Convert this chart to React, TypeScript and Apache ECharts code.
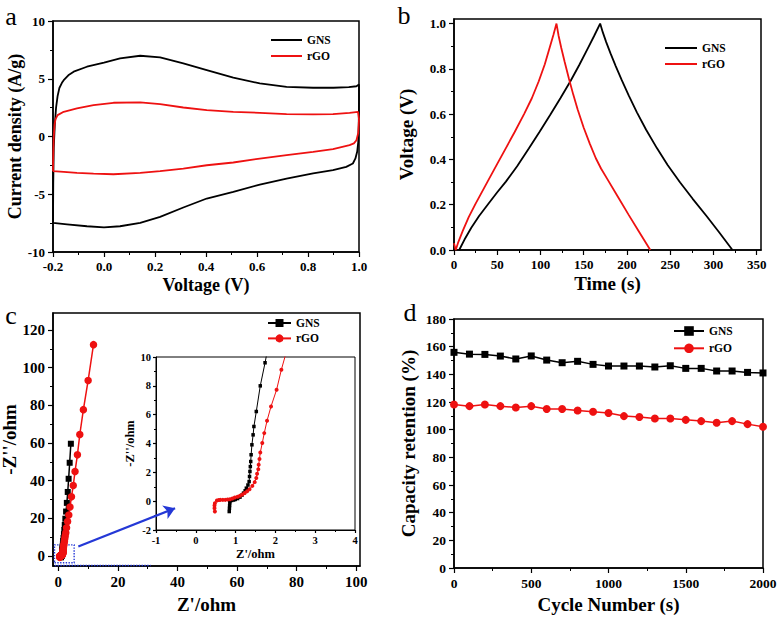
import React, { useEffect, useRef } from 'react';
import * as echarts from 'echarts';

// ---------- Panel a: cyclic voltammetry [Voltage (V), Current density (A/g)]
const cvGNS: [number, number][] = [
  [-0.2, -7.48], [-0.199, -4], [-0.197, -1], [-0.193, 1], [-0.188, 2.5], [-0.182, 3.5], [-0.175, 4.2],
  [-0.165, 4.65], [-0.158, 4.88], [-0.14, 5.3], [-0.119, 5.61], [-0.067, 6.04], [0.0, 6.39], [0.063, 6.76],
  [0.142, 6.99], [0.22, 6.85], [0.311, 6.33], [0.403, 5.75], [0.507, 5.09], [0.611, 4.6], [0.716, 4.3],
  [0.82, 4.22], [0.9, 4.22], [0.96, 4.28], [0.99, 4.35], [1.0, 4.5],
  [1.0, 3.0], [0.999, 1.0], [0.997, -0.5], [0.993, -1.3], [0.986, -1.9], [0.976, -2.34], [0.95, -2.63],
  [0.898, -2.92], [0.82, -3.2], [0.716, -3.64], [0.611, -4.16], [0.507, -4.8], [0.403, -5.37], [0.311, -6.15],
  [0.22, -6.96], [0.142, -7.48], [0.063, -7.77], [0.0, -7.86], [-0.067, -7.77], [-0.145, -7.6], [-0.2, -7.48],
];
const cvRGO: [number, number][] = [
  [-0.2, -3.0], [-0.199, -1.5], [-0.197, 0], [-0.194, 1.0], [-0.19, 1.5], [-0.182, 1.85], [-0.158, 2.14],
  [-0.106, 2.43], [-0.041, 2.72], [0.037, 2.92], [0.142, 2.95], [0.22, 2.8], [0.311, 2.51], [0.403, 2.28],
  [0.507, 2.14], [0.611, 2.05], [0.716, 1.94], [0.82, 1.91], [0.898, 1.94], [0.963, 2.05], [0.996, 2.14],
  [1.0, 1.5], [0.997, 0.3], [0.99, -0.32], [0.98, -0.6], [0.963, -0.75], [0.898, -1.1], [0.82, -1.33],
  [0.716, -1.62], [0.611, -1.91], [0.507, -2.25], [0.403, -2.49], [0.311, -2.78], [0.22, -3.0], [0.142, -3.15],
  [0.037, -3.27], [-0.041, -3.21], [-0.106, -3.15], [-0.158, -3.06], [-0.2, -3.0],
];

// ---------- Panel b: galvanostatic charge/discharge [Time (s), Voltage (V)]
const gcdGNS: [number, number][] = [
  [6, 0], [12, 0.045], [20, 0.098], [29, 0.15], [40, 0.205], [50, 0.255], [60, 0.302], [73, 0.37], [86.5, 0.448],
  [99, 0.522], [111.5, 0.598], [123, 0.67], [134.6, 0.745], [145, 0.818], [154, 0.885], [162, 0.945], [169, 1.0],
  [172, 0.962], [176, 0.918], [181, 0.868], [187, 0.812], [194, 0.75], [202, 0.683], [211.5, 0.608], [222, 0.532],
  [234.6, 0.45], [247, 0.375], [261.5, 0.298], [276, 0.226], [292, 0.15], [307, 0.076], [322, 0],
];
const gcdRGO: [number, number][] = [
  [0, 0.03], [2, 0], [5, 0.035], [10, 0.083], [17, 0.145], [25, 0.205], [38.5, 0.3], [50, 0.38], [60, 0.45],
  [70, 0.52], [81, 0.6], [90, 0.67], [98, 0.745], [105, 0.82], [110, 0.885], [115, 0.95], [118.5, 1.0],
  [121, 0.945], [124, 0.893], [128, 0.83], [133, 0.755], [138, 0.685], [143, 0.62], [150, 0.54], [157, 0.47],
  [164, 0.405], [170, 0.36], [177, 0.315], [189.5, 0.235], [202, 0.155], [214.5, 0.077], [227, 0],
];

// ---------- Panel c: Nyquist plot [Z'/ohm, -Z''/ohm] (also shown in the inset)
const eisGNS: [number, number][] = [
  [0.84, -0.72], [0.845, -0.5], [0.85, -0.3], [0.855, -0.1], [0.86, 0.02], [0.9, 0.05], [0.95, 0.08], [0.99, 0.12],
  [1.05, 0.18], [1.11, 0.28], [1.16, 0.42], [1.2, 0.56], [1.24, 0.72], [1.27, 0.9], [1.31, 1.12], [1.34, 1.36],
  [1.35, 1.71], [1.36, 2.06], [1.37, 2.4], [1.38, 2.75], [1.39, 3.22], [1.41, 3.91], [1.44, 4.6], [1.46, 5.18],
  [1.52, 6.22], [1.62, 8.0], [1.74, 9.6], [1.88, 11.6], [2.0, 13.8], [2.15, 16.5], [2.35, 19.8], [2.6, 23.6],
  [2.85, 28.2], [3.15, 34.0], [3.45, 41.0], [3.8, 49.5], [4.2, 59.6],
];
const eisRGO: [number, number][] = [
  [0.48, -0.72], [0.47, -0.49], [0.47, -0.3], [0.48, -0.14], [0.53, 0.04], [0.58, 0.08], [0.62, 0.09],
  [0.68, 0.09], [0.74, 0.09], [0.8, 0.11], [0.86, 0.14], [0.92, 0.19], [0.98, 0.25], [1.05, 0.3], [1.11, 0.37],
  [1.17, 0.46], [1.23, 0.56], [1.29, 0.69], [1.35, 0.83], [1.42, 1.06], [1.48, 1.32], [1.52, 1.6], [1.54, 1.9],
  [1.57, 2.22], [1.58, 2.52], [1.6, 2.92], [1.62, 3.38], [1.67, 4.03], [1.72, 4.72], [1.79, 5.58], [1.89, 6.57],
  [2.03, 7.73], [2.15, 9.12], [2.3, 10.6], [2.5, 12.4], [2.75, 15.0], [3.1, 18.3], [3.5, 21.8], [3.9, 26.0],
  [4.4, 31.4], [5.0, 37.4], [5.6, 44.9], [6.4, 53.7], [7.2, 64.5], [8.4, 77.7], [10.0, 93.2], [11.8, 112.2],
];

// ---------- Panel d: cycling stability [Cycle Number, Capacity retention (%)]
const cycleNumbers = [0, 100, 200, 300, 400, 500, 600, 700, 800, 900, 1000, 1100, 1200, 1300, 1400, 1500, 1600, 1700, 1800, 1900, 2000];
const retentionGNS = [155.9, 154.6, 154.4, 153.2, 151.1, 153.3, 150.3, 148.4, 149.4, 147.2, 146.0, 146.0, 146.0, 145.3, 146.2, 144.3, 144.3, 142.4, 142.4, 141.4, 141.0];
const retentionRGO = [118.2, 117.0, 118.2, 117.0, 116.0, 117.0, 114.9, 114.9, 113.9, 112.9, 112.0, 109.8, 109.1, 108.1, 108.1, 107.1, 106.2, 105.0, 106.2, 104.0, 102.1];

// ---------- Tick values
const aXTicks = [-0.2, 0, 0.2, 0.4, 0.6, 0.8, 1.0];
const aXMinor = [-0.1, 0.1, 0.3, 0.5, 0.7, 0.9];
const aYTicks = [-10, -5, 0, 5, 10];
const aYMinor = [-7.5, -2.5, 2.5, 7.5];
const bXTicks = [0, 50, 100, 150, 200, 250, 300, 350];
const bXMinor = [25, 75, 125, 175, 225, 275, 325];
const bYTicks = [0, 0.2, 0.4, 0.6, 0.8, 1.0];
const bYMinor = [0.1, 0.3, 0.5, 0.7, 0.9];
const cXTicks = [0, 20, 40, 60, 80, 100];
const cXMinor = [10, 30, 50, 70, 90];
const cYTicks = [0, 20, 40, 60, 80, 100, 120];
const cYMinor = [10, 30, 50, 70, 90, 110];
const iXTicks = [-1, 0, 1, 2, 3, 4];
const iXMinor = [-0.5, 0.5, 1.5, 2.5, 3.5];
const iYTicks = [-2, 0, 2, 4, 6, 8, 10];
const iYMinor = [-1, 1, 3, 5, 7, 9];
const dXTicks = [0, 500, 1000, 1500, 2000];
const dXMinor = [250, 750, 1250, 1750];
const dYTicks = [0, 20, 40, 60, 80, 100, 120, 140, 160, 180];
const dYMinor = [10, 30, 50, 70, 90, 110, 130, 150, 170];

const FONT = '"Liberation Serif", "Times New Roman", Times, serif';
const RED = '#ee1111';
const BLUE = '#2438d6';
const fix1 = (v: number) => v.toFixed(1);
const plain = (v: number) => String(Math.round(v * 1000) / 1000);

type Spec = {
  grid: number; min: number; max: number; major: number[]; minor: number[];
  fmt?: (v: number) => string; name?: string; nameGap?: number; nameSize?: number;
  labelSize: number; tickLen?: number; minorLen?: number; lineWidth?: number; margin?: number;
};

function axisPair(dim: 'x' | 'y', s: Spec) {
  const position = dim === 'x' ? 'bottom' : 'left';
  const main = {
    type: 'value', gridIndex: s.grid, min: s.min, max: s.max, position,
    name: s.name || '', nameLocation: 'middle', nameGap: s.nameGap ?? 25,
    nameTextStyle: { fontFamily: FONT, fontWeight: 'bold', fontSize: s.nameSize ?? 18, color: '#000' },
    axisLine: { show: true, onZero: false, lineStyle: { color: '#000', width: s.lineWidth ?? 1.5 } },
    axisTick: { show: true, inside: false, length: s.tickLen ?? 5, customValues: s.major, lineStyle: { color: '#000', width: 1.2 } },
    minorTick: { show: false },
    axisLabel: {
      show: true, customValues: s.major, formatter: s.fmt ?? plain, fontFamily: FONT, fontWeight: 'bold',
      fontSize: s.labelSize, color: '#000', margin: s.margin ?? 8,
    },
    splitLine: { show: false },
  };
  const ghost = {
    type: 'value', gridIndex: s.grid, min: s.min, max: s.max, position,
    axisLine: { show: false, onZero: false },
    axisTick: { show: true, inside: false, length: s.minorLen ?? 3, customValues: s.minor, lineStyle: { color: '#000', width: 1 } },
    axisLabel: { show: false },
    splitLine: { show: false },
  };
  return [main, ghost];
}

const gridBox = (left: number, top: number, width: number, height: number, bw = 1.5, bg = 'transparent') => ({
  left, top, width, height, show: true, borderColor: '#000', borderWidth: bw, backgroundColor: bg,
  containLabel: false, outerBoundsMode: 'none',
});

const legendBox = (left: number, top: number, names: string[], itemWidth: number, itemHeight: number, itemGap: number, lineOnly = false) => ({
  orient: 'vertical', left, top, padding: 0, itemWidth, itemHeight, itemGap,
  data: names.map((name) => (lineOnly ? { name, itemStyle: { opacity: 0 } } : { name })),
  formatter: (n: string) => n.split('-')[0], selectedMode: false,
  textStyle: { fontFamily: FONT, fontWeight: 'bold', fontSize: 11.5, color: '#000' },
});

function buildOption() {
  const xAxes = [
    ...axisPair('x', { grid: 0, min: -0.2, max: 1.0, major: aXTicks, minor: aXMinor, fmt: fix1, labelSize: 13, name: 'Voltage (V)', nameGap: 24, nameSize: 18 }),
    ...axisPair('x', { grid: 1, min: 0, max: 355, major: bXTicks, minor: bXMinor, labelSize: 13, name: 'Time (s)', nameGap: 24, nameSize: 19 }),
    ...axisPair('x', { grid: 2, min: -1.8, max: 101.3, major: cXTicks, minor: cXMinor, labelSize: 15, name: "Z'/ohm", nameGap: 29, nameSize: 19 }),
    ...axisPair('x', { grid: 3, min: -1, max: 4, major: iXTicks, minor: iXMinor, labelSize: 10.5, name: "Z'/ohm", nameGap: 17, nameSize: 12.5, tickLen: 3, minorLen: 2, lineWidth: 1, margin: 5 }),
    ...axisPair('x', { grid: 4, min: 0, max: 2000, major: dXTicks, minor: dXMinor, labelSize: 13.5, name: 'Cycle Number (s)', nameGap: 27, nameSize: 19 }),
  ];
  const yAxes = [
    ...axisPair('y', { grid: 0, min: -10, max: 10, major: aYTicks, minor: aYMinor, labelSize: 13, name: 'Current density (A/g)', nameGap: 29, nameSize: 18 }),
    ...axisPair('y', { grid: 1, min: 0, max: 1.02, major: bYTicks, minor: bYMinor, fmt: fix1, labelSize: 13, name: 'Voltage (V)', nameGap: 38, nameSize: 19 }),
    ...axisPair('y', { grid: 2, min: -5.3, max: 129, major: cYTicks, minor: cYMinor, labelSize: 15, name: "-Z''/ohm", nameGap: 33, nameSize: 19 }),
    ...axisPair('y', { grid: 3, min: -2, max: 10, major: iYTicks, minor: iYMinor, labelSize: 10.5, name: "-Z''/ohm", nameGap: 18, nameSize: 12.5, tickLen: 3, minorLen: 2, lineWidth: 1, margin: 5 }),
    ...axisPair('y', { grid: 4, min: 0, max: 180, major: dYTicks, minor: dYMinor, labelSize: 13.5, name: 'Capacity retention (%)', nameGap: 36, nameSize: 19 }),
  ];

  const lineSeries = (name: string, axis: number, data: [number, number][], color: string, extra: any = {}) => ({
    type: 'line', name, xAxisIndex: axis, yAxisIndex: axis, data, color, silent: true, clip: true,
    symbol: 'none', showSymbol: false, lineStyle: { color, width: 1.8 }, itemStyle: { color },
    emphasis: { disabled: true }, ...extra,
  });

  const retGNS = cycleNumbers.map((c, i) => [c, retentionGNS[i]] as [number, number]);
  const retRGO = cycleNumbers.map((c, i) => [c, retentionRGO[i]] as [number, number]);

  const series = [
    lineSeries('GNS-a', 0, cvGNS, '#000'),
    lineSeries('rGO-a', 0, cvRGO, RED),
    lineSeries('GNS-b', 2, gcdGNS, '#000'),
    lineSeries('rGO-b', 2, gcdRGO, RED),
    lineSeries('GNS-c', 4, eisGNS, '#000', {
      symbol: 'rect', showSymbol: true, symbolSize: 6, lineStyle: { color: '#000', width: 1.5 },
      markArea: {
        silent: true, label: { show: false },
        itemStyle: { color: 'rgba(0,0,0,0)', borderColor: BLUE, borderWidth: 1.4, borderType: 'dotted' },
        data: [[{ coord: [-1.3, -3.6] }, { coord: [5.3, 5.9] }]],
      },
      markLine: {
        silent: true, symbol: ['none', 'arrow'], symbolSize: 11, label: { show: false },
        lineStyle: { color: BLUE, width: 2.2, type: 'solid' },
        emphasis: { disabled: true },
        data: [
          [{ coord: [6.7, 5.0] }, { coord: [39.2, 25.4] }],
          [
            { coord: [-1.2, -4.8], symbol: 'none', lineStyle: { type: 'dotted', width: 1.4, color: BLUE } },
            { coord: [31, -4.8], symbol: 'none' },
          ],
        ],
      },
    }),
    lineSeries('rGO-c', 4, eisRGO, RED, { symbol: 'circle', showSymbol: true, symbolSize: 7.5, lineStyle: { color: RED, width: 1.5 } }),
    lineSeries('GNS-i', 6, eisGNS, '#000', { symbol: 'rect', showSymbol: true, symbolSize: 3.5, lineStyle: { color: '#000', width: 1 } }),
    lineSeries('rGO-i', 6, eisRGO, RED, { symbol: 'circle', showSymbol: true, symbolSize: 4, lineStyle: { color: RED, width: 1 } }),
    lineSeries('GNS-d', 8, retGNS, '#000', { symbol: 'rect', showSymbol: true, symbolSize: 7, lineStyle: { color: '#000', width: 1.5 } }),
    lineSeries('rGO-d', 8, retRGO, RED, { symbol: 'circle', showSymbol: true, symbolSize: 8, lineStyle: { color: RED, width: 1.5 } }),
  ];

  const letter = (text: string, x: number, y: number) => ({
    type: 'text', x, y, silent: true,
    style: { text, fontFamily: FONT, fontSize: 26, fill: '#000', align: 'center', verticalAlign: 'middle' },
  });

  return {
    animation: false,
    backgroundColor: '#fff',
    textStyle: { fontFamily: FONT },
    grid: [
      gridBox(53, 21, 306, 231),
      gridBox(454, 19, 307, 231),
      gridBox(53, 313, 307, 253),
      gridBox(156, 357, 199, 173, 1, '#fff'),
      gridBox(454, 319, 309, 249),
    ],
    xAxis: xAxes,
    yAxis: yAxes,
    legend: [
      legendBox(270, 34, ['GNS-a', 'rGO-a'], 31, 12, 4, true),
      legendBox(664, 42, ['GNS-b', 'rGO-b'], 32, 12, 4, true),
      legendBox(267, 317, ['GNS-c', 'rGO-c'], 23, 10, 3.4),
      legendBox(673, 325, ['GNS-d', 'rGO-d'], 30, 12, 5.3),
    ],
    series,
    graphic: [
      letter('a', 11, 16),
      letter('b', 404, 15),
      letter('c', 11, 315),
      letter('d', 410, 312),
    ],
  };
}

export default function App() {
  const ref = useRef<HTMLDivElement>(null);
  useEffect(() => {
    if (!ref.current) return;
    const chart = echarts.init(ref.current, null, { renderer: 'svg' });
    chart.setOption(buildOption() as any);
    return () => chart.dispose();
  }, []);
  return (
    <div
      ref={ref}
      style={{ position: 'absolute', left: 0, top: 0, width: 778, height: 617, background: '#fff' }}
    />
  );
}
